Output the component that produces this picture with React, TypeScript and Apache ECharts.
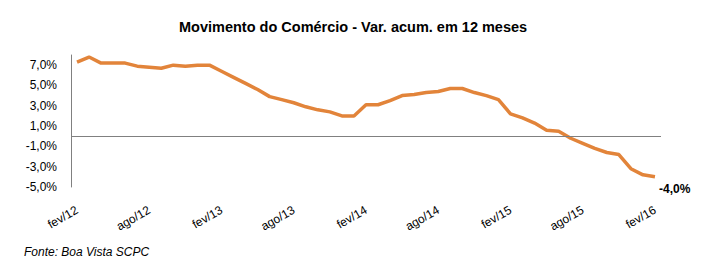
import React, { useEffect, useRef } from "react";
import * as echarts from "echarts";

const monthNames = ["jan", "fev", "mar", "abr", "mai", "jun", "jul", "ago", "set", "out", "nov", "dez"];
const startYear = 12;
const startMonth = 1; // fev
const pointCount = 49;
const categories: string[] = Array.from({ length: pointCount }, (_, i) => {
  const m = (startMonth + i) % 12;
  const y = startYear + Math.floor((startMonth + i) / 12);
  return `${monthNames[m]}/${y}`;
});

const values = [
  7.3, 7.8, 7.2, 7.2, 7.2, 6.9, 6.8, 6.7, 7.0, 6.9, 7.0, 7.0,
  6.4, 5.8, 5.2, 4.6, 3.9, 3.6, 3.3, 2.9, 2.6, 2.4, 2.0, 2.0,
  3.1, 3.1, 3.5, 4.0, 4.1, 4.3, 4.4, 4.7, 4.7, 4.3, 4.0, 3.6,
  2.2, 1.8, 1.3, 0.6, 0.5, -0.2, -0.7, -1.2, -1.6, -1.8, -3.2, -3.8,
  -4.0,
];

const yMin = -5;
const yMax = 8;

const titleText = "Movimento do Comércio - Var. acum. em 12 meses";
const sourceText = "Fonte: Boa Vista SCPC";

const fmt = (v: number) => `${v.toFixed(1).replace(".", ",")}%`;

export default function App() {
  const ref = useRef<HTMLDivElement>(null);
  useEffect(() => {
    document.body.style.margin = "0";
    if (!ref.current) return;
    const chart = echarts.init(ref.current, null, { renderer: "svg" });
    const font = "Liberation Sans, Arial, sans-serif";
    chart.setOption({
      animation: false,
      backgroundColor: "#ffffff",
      title: {
        text: titleText,
        left: 174,
        top: 14,
        textStyle: { fontFamily: font, fontSize: 14.5, fontWeight: "bold", color: "#000" },
      },
      graphic: [
        {
          type: "text",
          left: 24,
          top: 246,
          style: {
            text: sourceText,
            fontFamily: font,
            fontSize: 12,
            fontStyle: "italic",
            fill: "#000",
          },
        },
      ],
      grid: { left: 71, right: 65, top: 55, bottom: 79, containLabel: false },
      xAxis: {
        type: "category",
        data: categories,
        boundaryGap: true,
        axisLine: { show: false, onZero: false },
        axisTick: { show: false },
        axisLabel: {
          interval: 5,
          rotate: 30,
          margin: 22,
          fontFamily: font,
          fontSize: 12,
          color: "#000",
        },
        splitLine: { show: false },
      },
      yAxis: {
        type: "value",
        min: yMin,
        max: yMax,
        interval: 1,
        axisLine: { show: true, lineStyle: { color: "#808080", width: 1 } },
        axisTick: { show: false },
        splitLine: { show: false },
        axisLabel: {
          margin: 14,
          fontFamily: font,
          fontSize: 12,
          color: "#000",
          formatter: (v: number) => (Math.round(v - yMin) % 2 === 0 && v < yMax ? fmt(v) : ""),
        },
      },
      series: [
        {
          type: "line",
          data: values,
          showSymbol: false,
          symbol: "none",
          lineStyle: { color: "#E2843A", width: 3.5 },
          itemStyle: { color: "#E2843A" },
          endLabel: {
            show: true,
            formatter: (p: any) => fmt(p.value),
            distance: 4,
            offset: [0, 12],
            fontFamily: font,
            fontSize: 12,
            fontWeight: "bold",
            color: "#000",
          },
          markLine: {
            silent: true,
            symbol: "none",
            label: { show: false },
            lineStyle: { color: "#808080", width: 1, type: "solid" },
            data: [{ yAxis: 0 }],
          },
          z: 3,
        },
      ],
    });
    return () => chart.dispose();
  }, []);
  return <div ref={ref} style={{ width: 726, height: 266 }} />;
}
